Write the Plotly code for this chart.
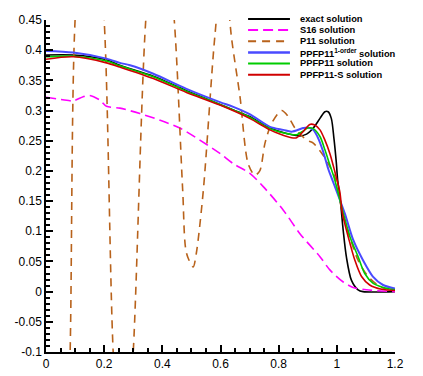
import plotly.graph_objects as go

# exact solution
x_exact = [0.0, 0.094, 0.208, 0.254, 0.369, 0.483, 0.598, 0.644, 0.70, 0.77, 0.827, 0.873,
           0.896, 0.919, 0.942, 0.959, 0.97, 0.981, 0.99, 0.998, 1.003, 1.012, 1.022, 1.033,
           1.05, 1.073, 1.09, 1.2]
y_exact = [0.392, 0.392, 0.384, 0.375, 0.357, 0.333, 0.31, 0.301, 0.29, 0.271, 0.262, 0.258,
           0.261, 0.271, 0.287, 0.298, 0.298, 0.287, 0.254, 0.215, 0.184, 0.151, 0.101, 0.057,
           0.019, 0.003, 0.0, 0.0]

# S16
x_s16 = [0.0, 0.071, 0.094, 0.128, 0.151, 0.186, 0.208, 0.254, 0.323, 0.392, 0.46, 0.529,
         0.598, 0.644, 0.701, 0.747, 0.816, 0.873, 0.942, 0.976, 1.022, 1.056, 1.102, 1.2]
y_s16 = [0.322, 0.317, 0.316, 0.323, 0.325, 0.317, 0.307, 0.304, 0.295, 0.284, 0.271, 0.251,
         0.229, 0.212, 0.196, 0.174, 0.135, 0.096, 0.058, 0.036, 0.016, 0.007, 0.003, 0.0]

# P11
x_p11 = [0.0, 0.06, 0.083, 0.1, 0.15, 0.2, 0.231, 0.265, 0.3, 0.343, 0.39, 0.441, 0.47,
         0.483, 0.506, 0.517, 0.541, 0.58, 0.61, 0.638, 0.667, 0.695, 0.718, 0.735, 0.753,
         0.776, 0.81, 0.833, 0.856, 0.896, 0.919, 0.953, 0.976, 0.993, 1.02, 1.045, 1.073,
         1.108, 1.15, 1.2]
y_p11 = [-1.0, -0.5, -0.1, 0.45, 0.75, 0.45, -0.1, -0.35, -0.1, 0.45, 0.7, 0.45, 0.168,
         0.064, 0.041, 0.064, 0.168, 0.42, 0.55, 0.42, 0.323, 0.212, 0.193, 0.2, 0.246,
         0.279, 0.30, 0.29, 0.271, 0.251, 0.246, 0.226, 0.207, 0.19, 0.13, 0.09, 0.052,
         0.025, 0.008, 0.002]

# PPFP11 1-order
x_ppfp1 = [0.0, 0.094, 0.208, 0.254, 0.289, 0.369, 0.483, 0.598, 0.644, 0.70, 0.77, 0.816,
           0.844, 0.884, 0.9, 0.919, 0.936, 0.953, 0.97, 0.987, 1.027, 1.056, 1.09, 1.124,
           1.159, 1.2]
y_ppfp1 = [0.3986, 0.396, 0.386, 0.379, 0.375, 0.361, 0.336, 0.314, 0.306, 0.294, 0.273,
           0.268, 0.265, 0.271, 0.272, 0.268, 0.254, 0.232, 0.204, 0.182, 0.13, 0.086,
           0.052, 0.025, 0.011, 0.005]

# PPFP11
x_ppfp = [0.0, 0.094, 0.208, 0.254, 0.369, 0.483, 0.598, 0.70, 0.77, 0.838, 0.862, 0.884,
          0.9, 0.919, 0.942, 0.959, 0.976, 0.993, 1.022, 1.045, 1.073, 1.096, 1.124, 1.159, 1.2]
y_ppfp = [0.389, 0.39, 0.382, 0.374, 0.356, 0.332, 0.31, 0.289, 0.27, 0.261, 0.26, 0.266,
          0.271, 0.27, 0.257, 0.235, 0.21, 0.185, 0.13, 0.091, 0.058, 0.03, 0.014, 0.007, 0.003]

# PPFP11-S
x_ppfps = [0.0, 0.094, 0.208, 0.254, 0.369, 0.483, 0.598, 0.70, 0.77, 0.804, 0.844, 0.862,
           0.884, 0.907, 0.924, 0.942, 0.959, 0.976, 0.993, 1.01, 1.019, 1.039, 1.062, 1.085,
           1.113, 1.154, 1.2]
y_ppfps = [0.385, 0.389, 0.379, 0.372, 0.353, 0.33, 0.309, 0.287, 0.268, 0.261, 0.255, 0.255,
           0.265, 0.277, 0.276, 0.268, 0.251, 0.229, 0.199, 0.166, 0.13, 0.091, 0.052, 0.025,
           0.011, 0.004, 0.002]

y_ticks = [-0.1, -0.05, 0, 0.05, 0.1, 0.15, 0.2, 0.25, 0.3, 0.35, 0.4, 0.45]
y_ticktext = ["-0.1", "-0.05", "0", "0.05", "0.1", "0.15", "0.2", "0.25", "0.3", "0.35", "0.4", "0.45"]

names = ["exact solution", "S16 solution", "P11 solution",
         "PPFP11<sup>1-order</sup> solution", "PPFP11 solution", "PPFP11-S solution"]
colors = ["#000000", "#ff00ff", "#b8621b", "#4a4aff", "#00cc00", "#d00000"]
dashes = ["solid", "10px,5px", "8px,6px", "solid", "solid", "solid"]
widths = [1.6, 1.6, 1.6, 2.0, 1.6, 1.6]
xs = [x_exact, x_s16, x_p11, x_ppfp1, x_ppfp, x_ppfps]
ys = [y_exact, y_s16, y_p11, y_ppfp1, y_ppfp, y_ppfps]

fig = go.Figure()
for xv, yv, c, d, w in zip(xs, ys, colors, dashes, widths):
    fig.add_trace(go.Scatter(x=xv, y=yv, mode="lines",
                             line=dict(color=c, width=w, dash=d, shape="spline", smoothing=0.8),
                             showlegend=False))

# hand-made legend (plotly's legend rows are too tall)
row_y = [1.003, 0.97, 0.936, 0.902, 0.869, 0.835]
for ry, n, c, d, w in zip(row_y, names, colors, dashes, widths):
    fig.add_shape(type="line", xref="paper", yref="paper", x0=0.579, x1=0.699, y0=ry, y1=ry,
                  line=dict(color=c, width=w + 0.4, dash=d))
    fig.add_annotation(x=0.722, y=ry, xref="paper", yref="paper", text="<b>" + n + "</b>",
                       showarrow=False, xanchor="left", yanchor="middle",
                       font=dict(family="Liberation Sans, Arial", size=9.3, color="black"))

axis_font = dict(family="Liberation Sans, Arial", size=12, color="black")
fig.update_xaxes(range=[0, 1.2], dtick=0.2, showline=True, linecolor="black", linewidth=1.5,
                 ticks="inside", ticklen=7, tickwidth=1.5, tickcolor="black",
                 minor=dict(dtick=0.05, ticks="inside", ticklen=4, tickcolor="black"),
                 showgrid=False, zeroline=False, tickfont=axis_font, automargin=False)
fig.update_yaxes(range=[-0.1, 0.45], tickmode="array", tickvals=y_ticks, ticktext=y_ticktext,
                 showline=True, linecolor="black", linewidth=1.5,
                 ticks="inside", ticklen=7, tickwidth=1.5, tickcolor="black",
                 minor=dict(dtick=0.01, ticks="inside", ticklen=4, tickcolor="black"),
                 showgrid=False, zeroline=False, tickfont=axis_font, automargin=False)
# page body adds 8px around the figure
fig.update_layout(width=415, height=368, margin=dict(l=38, r=28, t=12, b=24),
                  plot_bgcolor="white", paper_bgcolor="white")
fig.write_html("out.html")
